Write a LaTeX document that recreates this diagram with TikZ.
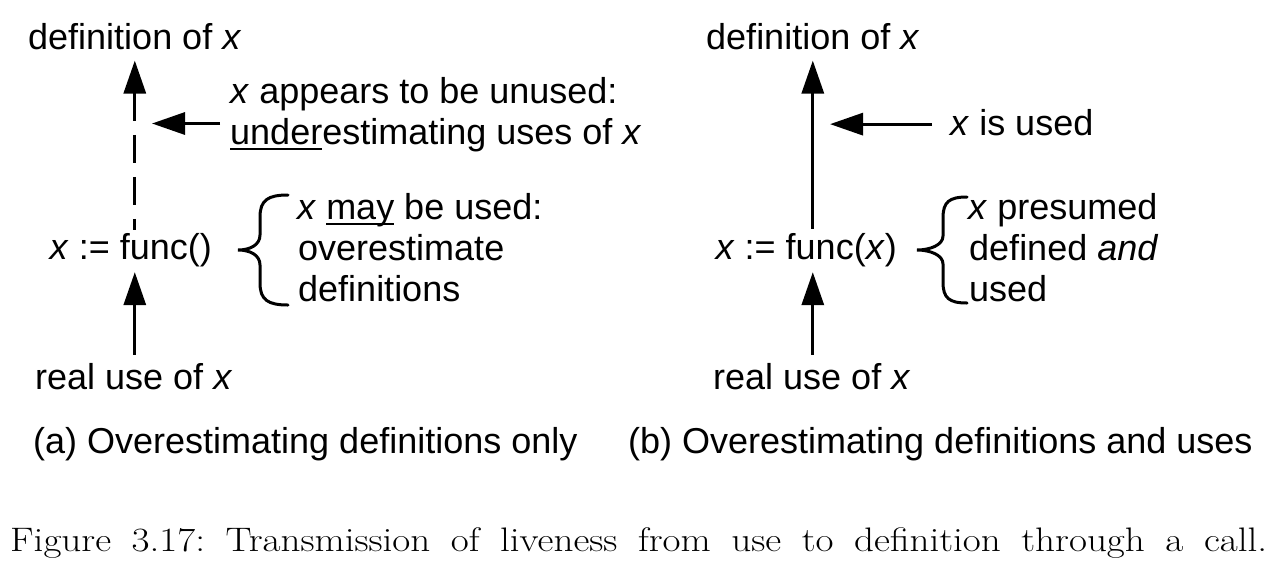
\documentclass[tikz,border=0pt]{standalone}
\usepackage{graphicx}
\usepackage{fontspec}
\newfontfamily\arial{Liberation Sans}
\usetikzlibrary{arrows.meta,calc}
\newcommand\myul[1]{\setbox0\hbox{#1}\rlap{\rule[-6pt]{\wd0}{2.2pt}}\box0\relax}
\begin{document}
\begin{tikzpicture}[x=1pt,y=-1pt,
  lbl/.style={inner sep=0pt, anchor=base west, font=\arial\fontsize{36}{42}\selectfont},
  arr/.style={line width=3.2pt, -{Triangle[length=33pt,width=22pt]}},
  darr/.style={line width=3.2pt, {Triangle[length=33pt,width=22pt]}-, dash pattern=on 28pt off 14pt},
  brc/.style={line width=3pt, line cap=round},
]
\fill[white] (0,0) rectangle (1284,574);
\useasboundingbox (0,0) rectangle (1284,574);

% ---------- panel (a)
\node[lbl] (defA) at (28,49) {definition of \textit{x}};
\node[lbl, anchor=base east] (funcA) at (212,259) {\textit{x} := func()};
\node[lbl] (realA) at (35,389) {real use of \textit{x}};
\node[lbl] (appA1) at (230,103) {\textit{x} appears to be unused:};
\node[lbl] (appA2) at (230,144) {\myul{under}estimating uses of \textit{x}};
\node[lbl] (mayA1) at (297,219) {\textit{x} \myul{may} be used:};
\node[lbl] (mayA2) at (298,260) {overestimate};
\node[lbl] (mayA3) at (298,301) {definitions};
\node[lbl] (capA) at (33,453) {(a) Overestimating definitions only};

\draw[darr, shorten <=11pt, shorten >=3pt] (defA.south) -- (funcA.north -| defA.south);
\draw[arr, shorten <=8pt, shorten >=5.5pt] (realA.north -| defA.south) -- (funcA.south -| defA.south);
\draw[arr] ($(appA1.base west)!0.5!(appA2.base west)+(-10,0)$) -- ++(-68,0);
\draw[brc] (288,195) .. controls (268,195) and (260,200) .. (260,217) -- (260,235)
  .. controls (260,245) and (250,250) .. (238,250)
  .. controls (250,250) and (260,255) .. (260,265) -- (260,283)
  .. controls (260,300) and (268,305) .. (288,305);

% ---------- panel (b)
\node[lbl] (defB) at (706,49) {definition of \textit{x}};
\node[lbl, anchor=base east] (funcB) at (897,259) {\textit{x} := func(\textit{x})};
\node[lbl] (realB) at (713,389) {real use of \textit{x}};
\node[lbl] (isB) at (950,135) {\textit{x} is used};
\node[lbl] (preB1) at (968,219) {\textit{x} presumed};
\node[lbl] (preB2) at (969,260) {defined \textit{and}};
\node[lbl] (preB3) at (969,301) {used};
\node[lbl] (capB) at (628,453) {(b) Overestimating definitions and uses};

\draw[arr, shorten <=4pt, shorten >=11pt] (funcB.north -| defB.south) -- (defB.south);
\draw[arr, shorten <=8pt, shorten >=5.5pt] (realB.north -| defB.south) -- (funcB.south -| defB.south);
\draw[arr] ([xshift=-18pt,yshift=-2pt]isB.west) -- ++(-102,0);
\draw[brc] (967,197) .. controls (949,197) and (943,202) .. (943,218) -- (943,236)
  .. controls (943,245) and (930,250) .. (917,250)
  .. controls (930,250) and (943,255) .. (943,264) -- (943,282)
  .. controls (943,298) and (949,303) .. (967,303);

% ---------- caption
\node[inner sep=0pt, anchor=base west, font=\fontsize{34}{40}\selectfont\frenchspacing] (cap) at (10,551)
  {\scalebox{1.15}[1]{\makebox[1093pt][s]{Figure 3.17: Transmission of liveness from use to definition through a call.}}};
\end{tikzpicture}
\end{document}
